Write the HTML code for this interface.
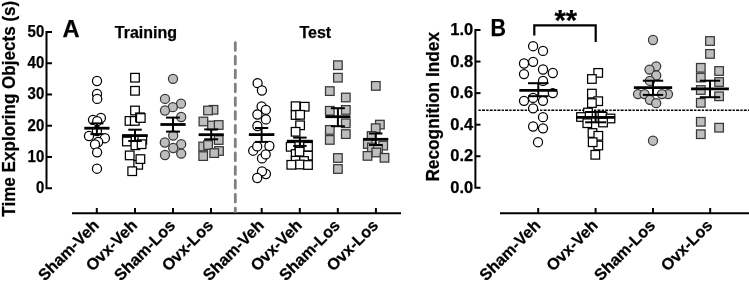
<!DOCTYPE html>
<html><head><meta charset="utf-8"><style>html,body{margin:0;padding:0;background:#fff;overflow:hidden}svg{display:block;will-change:transform}</style></head>
<body><svg width="749" height="287" viewBox="0 0 749 287"><path d="M52,32.00 H46.5 V188.20 H52" fill="none" stroke="#000" stroke-width="2"/>
<line x1="46.5" x2="52" y1="156.96" y2="156.96" stroke="#000" stroke-width="2"/>
<line x1="46.5" x2="52" y1="125.72" y2="125.72" stroke="#000" stroke-width="2"/>
<line x1="46.5" x2="52" y1="94.48" y2="94.48" stroke="#000" stroke-width="2"/>
<line x1="46.5" x2="52" y1="63.24" y2="63.24" stroke="#000" stroke-width="2"/>
<text x="44.3" y="193.10" text-anchor="end" font-size="16.5" textLength="8.3" lengthAdjust="spacingAndGlyphs" font-family="Liberation Sans, sans-serif" font-weight="bold" stroke="#000" stroke-width="0.25">0</text>
<text x="44.3" y="161.86" text-anchor="end" font-size="16.5" textLength="16.7" lengthAdjust="spacingAndGlyphs" font-family="Liberation Sans, sans-serif" font-weight="bold" stroke="#000" stroke-width="0.25">10</text>
<text x="44.3" y="130.62" text-anchor="end" font-size="16.5" textLength="16.7" lengthAdjust="spacingAndGlyphs" font-family="Liberation Sans, sans-serif" font-weight="bold" stroke="#000" stroke-width="0.25">20</text>
<text x="44.3" y="99.38" text-anchor="end" font-size="16.5" textLength="16.7" lengthAdjust="spacingAndGlyphs" font-family="Liberation Sans, sans-serif" font-weight="bold" stroke="#000" stroke-width="0.25">30</text>
<text x="44.3" y="68.14" text-anchor="end" font-size="16.5" textLength="16.7" lengthAdjust="spacingAndGlyphs" font-family="Liberation Sans, sans-serif" font-weight="bold" stroke="#000" stroke-width="0.25">40</text>
<text x="44.3" y="36.90" text-anchor="end" font-size="16.5" textLength="16.7" lengthAdjust="spacingAndGlyphs" font-family="Liberation Sans, sans-serif" font-weight="bold" stroke="#000" stroke-width="0.25">50</text>
<line x1="72" x2="401" y1="213.2" y2="213.2" stroke="#000" stroke-width="2"/>
<line x1="96.8" x2="96.8" y1="208" y2="213" stroke="#000" stroke-width="2"/>
<line x1="135" x2="135" y1="208" y2="213" stroke="#000" stroke-width="2"/>
<line x1="173" x2="173" y1="208" y2="213" stroke="#000" stroke-width="2"/>
<line x1="211" x2="211" y1="208" y2="213" stroke="#000" stroke-width="2"/>
<line x1="261.7" x2="261.7" y1="208" y2="213" stroke="#000" stroke-width="2"/>
<line x1="299.8" x2="299.8" y1="208" y2="213" stroke="#000" stroke-width="2"/>
<line x1="337.8" x2="337.8" y1="208" y2="213" stroke="#000" stroke-width="2"/>
<line x1="375.9" x2="375.9" y1="208" y2="213" stroke="#000" stroke-width="2"/>
<line x1="235.3" x2="235.3" y1="42.7" y2="211.5" stroke="#808080" stroke-width="2.8" stroke-dasharray="7.7 6.08" stroke-linecap="round"/>
<path d="M480.5,30.00 H475.4 V187.80 H480.5" fill="none" stroke="#000" stroke-width="2"/>
<line x1="475.4" x2="480.5" y1="156.24" y2="156.24" stroke="#000" stroke-width="2"/>
<line x1="475.4" x2="480.5" y1="124.68" y2="124.68" stroke="#000" stroke-width="2"/>
<line x1="475.4" x2="480.5" y1="93.12" y2="93.12" stroke="#000" stroke-width="2"/>
<line x1="475.4" x2="480.5" y1="61.56" y2="61.56" stroke="#000" stroke-width="2"/>
<text x="473.2" y="193.00" text-anchor="end" font-size="16.5" font-family="Liberation Sans, sans-serif" font-weight="bold" stroke="#000" stroke-width="0.25">0.0</text>
<text x="473.2" y="161.44" text-anchor="end" font-size="16.5" font-family="Liberation Sans, sans-serif" font-weight="bold" stroke="#000" stroke-width="0.25">0.2</text>
<text x="473.2" y="129.88" text-anchor="end" font-size="16.5" font-family="Liberation Sans, sans-serif" font-weight="bold" stroke="#000" stroke-width="0.25">0.4</text>
<text x="473.2" y="98.32" text-anchor="end" font-size="16.5" font-family="Liberation Sans, sans-serif" font-weight="bold" stroke="#000" stroke-width="0.25">0.6</text>
<text x="473.2" y="66.76" text-anchor="end" font-size="16.5" font-family="Liberation Sans, sans-serif" font-weight="bold" stroke="#000" stroke-width="0.25">0.8</text>
<text x="473.2" y="35.20" text-anchor="end" font-size="16.5" font-family="Liberation Sans, sans-serif" font-weight="bold" stroke="#000" stroke-width="0.25">1.0</text>
<line x1="500" x2="749" y1="213.2" y2="213.2" stroke="#000" stroke-width="2"/>
<line x1="538.2" x2="538.2" y1="208" y2="213" stroke="#000" stroke-width="2"/>
<line x1="595.6" x2="595.6" y1="208" y2="213" stroke="#000" stroke-width="2"/>
<line x1="653" x2="653" y1="208" y2="213" stroke="#000" stroke-width="2"/>
<line x1="710.2" x2="710.2" y1="208" y2="213" stroke="#000" stroke-width="2"/>
<line x1="478.5" x2="749" y1="110.3" y2="110.3" stroke="#000" stroke-width="1.4" stroke-dasharray="2.3 1.2 3.0 1.2"/>
<text x="62.45" y="36.8" font-size="23.7" font-family="Liberation Sans, sans-serif" font-weight="bold" stroke="#000" stroke-width="0.25">A</text>
<text x="114.8" y="37.6" font-size="16" font-family="Liberation Sans, sans-serif" font-weight="bold" stroke="#000" stroke-width="0.25">Training</text>
<text x="299.4" y="37.8" font-size="16" font-family="Liberation Sans, sans-serif" font-weight="bold" stroke="#000" stroke-width="0.25">Test</text>
<text x="490.55" y="35.6" font-size="23.7" textLength="15.5" lengthAdjust="spacingAndGlyphs" font-family="Liberation Sans, sans-serif" font-weight="bold" stroke="#000" stroke-width="0.25">B</text>
<text x="554.45" y="29.95" font-size="29.1" font-family="Liberation Sans, sans-serif" font-weight="bold" stroke="#000" stroke-width="0.25">**</text>
<path d="M534.3,35.4 V25.4 H595.7 V41.9" fill="none" stroke="#000" stroke-width="2.2"/>
<text transform="translate(14.6,108.7) rotate(-90)" text-anchor="middle" font-size="18" textLength="216" lengthAdjust="spacingAndGlyphs" font-family="Liberation Sans, sans-serif" font-weight="bold" stroke="#000" stroke-width="0.25">Time Exploring Objects (s)</text>
<text transform="translate(439.3,106.8) rotate(-90)" text-anchor="middle" font-size="18" textLength="149.6" lengthAdjust="spacingAndGlyphs" font-family="Liberation Sans, sans-serif" font-weight="bold" stroke="#000" stroke-width="0.25">Recognition Index</text>
<text transform="translate(100.0,226.3) rotate(-45)" text-anchor="end" font-size="16.2" font-family="Liberation Sans, sans-serif" font-weight="bold" stroke="#000" stroke-width="0.25">Sham-Veh</text>
<text transform="translate(138.2,226.3) rotate(-45)" text-anchor="end" font-size="16.2" font-family="Liberation Sans, sans-serif" font-weight="bold" stroke="#000" stroke-width="0.25">Ovx-Veh</text>
<text transform="translate(176.2,226.3) rotate(-45)" text-anchor="end" font-size="16.2" font-family="Liberation Sans, sans-serif" font-weight="bold" stroke="#000" stroke-width="0.25">Sham-Los</text>
<text transform="translate(214.2,226.3) rotate(-45)" text-anchor="end" font-size="16.2" font-family="Liberation Sans, sans-serif" font-weight="bold" stroke="#000" stroke-width="0.25">Ovx-Los</text>
<text transform="translate(264.9,226.3) rotate(-45)" text-anchor="end" font-size="16.2" font-family="Liberation Sans, sans-serif" font-weight="bold" stroke="#000" stroke-width="0.25">Sham-Veh</text>
<text transform="translate(303.0,226.3) rotate(-45)" text-anchor="end" font-size="16.2" font-family="Liberation Sans, sans-serif" font-weight="bold" stroke="#000" stroke-width="0.25">Ovx-Veh</text>
<text transform="translate(341.0,226.3) rotate(-45)" text-anchor="end" font-size="16.2" font-family="Liberation Sans, sans-serif" font-weight="bold" stroke="#000" stroke-width="0.25">Sham-Los</text>
<text transform="translate(379.1,226.3) rotate(-45)" text-anchor="end" font-size="16.2" font-family="Liberation Sans, sans-serif" font-weight="bold" stroke="#000" stroke-width="0.25">Ovx-Los</text>
<text transform="translate(541.4,226.3) rotate(-45)" text-anchor="end" font-size="16.2" font-family="Liberation Sans, sans-serif" font-weight="bold" stroke="#000" stroke-width="0.25">Sham-Veh</text>
<text transform="translate(598.8,226.3) rotate(-45)" text-anchor="end" font-size="16.2" font-family="Liberation Sans, sans-serif" font-weight="bold" stroke="#000" stroke-width="0.25">Ovx-Veh</text>
<text transform="translate(656.2,226.3) rotate(-45)" text-anchor="end" font-size="16.2" font-family="Liberation Sans, sans-serif" font-weight="bold" stroke="#000" stroke-width="0.25">Sham-Los</text>
<text transform="translate(713.4,226.3) rotate(-45)" text-anchor="end" font-size="16.2" font-family="Liberation Sans, sans-serif" font-weight="bold" stroke="#000" stroke-width="0.25">Ovx-Los</text>
<circle cx="97" cy="81" r="4.55" fill="#fff" stroke="#000" stroke-width="1.25"/>
<circle cx="97" cy="93.9" r="4.55" fill="#fff" stroke="#000" stroke-width="1.25"/>
<circle cx="97.2" cy="98.9" r="4.55" fill="#fff" stroke="#000" stroke-width="1.25"/>
<circle cx="93" cy="119.8" r="4.55" fill="#fff" stroke="#000" stroke-width="1.25"/>
<circle cx="100.9" cy="118" r="4.55" fill="#fff" stroke="#000" stroke-width="1.25"/>
<circle cx="97.2" cy="121.2" r="4.55" fill="#fff" stroke="#000" stroke-width="1.25"/>
<circle cx="96.9" cy="131" r="4.55" fill="#fff" stroke="#000" stroke-width="1.25"/>
<circle cx="89" cy="136" r="4.55" fill="#fff" stroke="#000" stroke-width="1.25"/>
<circle cx="104.9" cy="138.2" r="4.55" fill="#fff" stroke="#000" stroke-width="1.25"/>
<circle cx="98.2" cy="142" r="4.55" fill="#fff" stroke="#000" stroke-width="1.25"/>
<circle cx="95" cy="144.5" r="4.55" fill="#fff" stroke="#000" stroke-width="1.25"/>
<circle cx="97.1" cy="152.3" r="4.55" fill="#fff" stroke="#000" stroke-width="1.25"/>
<circle cx="97" cy="168.7" r="4.55" fill="#fff" stroke="#000" stroke-width="1.25"/>
<rect x="130.70" y="73.40" width="8.6" height="8.6" fill="#fff" stroke="#000" stroke-width="1.25"/>
<rect x="130.70" y="86.50" width="8.6" height="8.6" fill="#fff" stroke="#000" stroke-width="1.25"/>
<rect x="130.70" y="106.20" width="8.6" height="8.6" fill="#fff" stroke="#000" stroke-width="1.25"/>
<rect x="125.20" y="116.60" width="8.6" height="8.6" fill="#fff" stroke="#000" stroke-width="1.25"/>
<rect x="130.50" y="116.60" width="8.6" height="8.6" fill="#fff" stroke="#000" stroke-width="1.25"/>
<rect x="135.70" y="113.00" width="8.6" height="8.6" fill="#fff" stroke="#000" stroke-width="1.25"/>
<rect x="136.50" y="113.70" width="8.6" height="8.6" fill="#fff" stroke="#000" stroke-width="1.25"/>
<rect x="122.60" y="135.20" width="8.6" height="8.6" fill="#fff" stroke="#000" stroke-width="1.25"/>
<rect x="122.60" y="137.20" width="8.6" height="8.6" fill="#fff" stroke="#000" stroke-width="1.25"/>
<rect x="138.00" y="135.50" width="8.6" height="8.6" fill="#fff" stroke="#000" stroke-width="1.25"/>
<rect x="131.10" y="141.00" width="8.6" height="8.6" fill="#fff" stroke="#000" stroke-width="1.25"/>
<rect x="137.30" y="139.90" width="8.6" height="8.6" fill="#fff" stroke="#000" stroke-width="1.25"/>
<rect x="125.40" y="151.10" width="8.6" height="8.6" fill="#fff" stroke="#000" stroke-width="1.25"/>
<rect x="133.90" y="160.50" width="8.6" height="8.6" fill="#fff" stroke="#000" stroke-width="1.25"/>
<rect x="136.10" y="154.80" width="8.6" height="8.6" fill="#fff" stroke="#000" stroke-width="1.25"/>
<rect x="127.90" y="166.90" width="8.6" height="8.6" fill="#fff" stroke="#000" stroke-width="1.25"/>
<circle cx="173" cy="78.8" r="4.55" fill="#bebebe" stroke="#383838" stroke-width="1.25"/>
<circle cx="165" cy="98.9" r="4.55" fill="#bebebe" stroke="#383838" stroke-width="1.25"/>
<circle cx="181" cy="103.7" r="4.55" fill="#bebebe" stroke="#383838" stroke-width="1.25"/>
<circle cx="172.8" cy="107.2" r="4.55" fill="#bebebe" stroke="#383838" stroke-width="1.25"/>
<circle cx="165" cy="110.5" r="4.55" fill="#bebebe" stroke="#383838" stroke-width="1.25"/>
<circle cx="181.2" cy="117" r="4.55" fill="#bebebe" stroke="#383838" stroke-width="1.25"/>
<circle cx="173.2" cy="135.5" r="4.55" fill="#bebebe" stroke="#383838" stroke-width="1.25"/>
<circle cx="164.8" cy="142.5" r="4.55" fill="#bebebe" stroke="#383838" stroke-width="1.25"/>
<circle cx="181.2" cy="144.2" r="4.55" fill="#bebebe" stroke="#383838" stroke-width="1.25"/>
<circle cx="173.2" cy="148" r="4.55" fill="#bebebe" stroke="#383838" stroke-width="1.25"/>
<circle cx="165" cy="155" r="4.55" fill="#bebebe" stroke="#383838" stroke-width="1.25"/>
<circle cx="181.2" cy="153.6" r="4.55" fill="#bebebe" stroke="#383838" stroke-width="1.25"/>
<rect x="209.20" y="105.50" width="8.6" height="8.6" fill="#bebebe" stroke="#383838" stroke-width="1.25"/>
<rect x="203.70" y="106.20" width="8.6" height="8.6" fill="#bebebe" stroke="#383838" stroke-width="1.25"/>
<rect x="199.10" y="117.20" width="8.6" height="8.6" fill="#bebebe" stroke="#383838" stroke-width="1.25"/>
<rect x="207.70" y="121.20" width="8.6" height="8.6" fill="#bebebe" stroke="#383838" stroke-width="1.25"/>
<rect x="214.40" y="120.70" width="8.6" height="8.6" fill="#bebebe" stroke="#383838" stroke-width="1.25"/>
<rect x="214.40" y="135.70" width="8.6" height="8.6" fill="#bebebe" stroke="#383838" stroke-width="1.25"/>
<rect x="198.90" y="142.20" width="8.6" height="8.6" fill="#bebebe" stroke="#383838" stroke-width="1.25"/>
<rect x="203.80" y="140.70" width="8.6" height="8.6" fill="#bebebe" stroke="#383838" stroke-width="1.25"/>
<rect x="214.70" y="146.70" width="8.6" height="8.6" fill="#bebebe" stroke="#383838" stroke-width="1.25"/>
<rect x="209.90" y="148.80" width="8.6" height="8.6" fill="#bebebe" stroke="#383838" stroke-width="1.25"/>
<rect x="198.90" y="151.80" width="8.6" height="8.6" fill="#bebebe" stroke="#383838" stroke-width="1.25"/>
<circle cx="257.6" cy="83.2" r="4.55" fill="#fff" stroke="#000" stroke-width="1.25"/>
<circle cx="261.9" cy="90.5" r="4.55" fill="#fff" stroke="#000" stroke-width="1.25"/>
<circle cx="261.6" cy="106.5" r="4.55" fill="#fff" stroke="#000" stroke-width="1.25"/>
<circle cx="265.9" cy="109.8" r="4.55" fill="#fff" stroke="#000" stroke-width="1.25"/>
<circle cx="257.4" cy="114.5" r="4.55" fill="#fff" stroke="#000" stroke-width="1.25"/>
<circle cx="265.9" cy="119.4" r="4.55" fill="#fff" stroke="#000" stroke-width="1.25"/>
<circle cx="257.4" cy="126" r="4.55" fill="#fff" stroke="#000" stroke-width="1.25"/>
<circle cx="253.2" cy="150.7" r="4.55" fill="#fff" stroke="#000" stroke-width="1.25"/>
<circle cx="257.2" cy="146.4" r="4.55" fill="#fff" stroke="#000" stroke-width="1.25"/>
<circle cx="269.4" cy="146" r="4.55" fill="#fff" stroke="#000" stroke-width="1.25"/>
<circle cx="262" cy="158.4" r="4.55" fill="#fff" stroke="#000" stroke-width="1.25"/>
<circle cx="265.7" cy="154.4" r="4.55" fill="#fff" stroke="#000" stroke-width="1.25"/>
<circle cx="265.9" cy="174" r="4.55" fill="#fff" stroke="#000" stroke-width="1.25"/>
<circle cx="262" cy="171.3" r="4.55" fill="#fff" stroke="#000" stroke-width="1.25"/>
<circle cx="257.2" cy="178" r="4.55" fill="#fff" stroke="#000" stroke-width="1.25"/>
<rect x="291.30" y="101.90" width="8.6" height="8.6" fill="#fff" stroke="#000" stroke-width="1.25"/>
<rect x="300.40" y="102.40" width="8.6" height="8.6" fill="#fff" stroke="#000" stroke-width="1.25"/>
<rect x="291.30" y="110.70" width="8.6" height="8.6" fill="#fff" stroke="#000" stroke-width="1.25"/>
<rect x="295.80" y="110.50" width="8.6" height="8.6" fill="#fff" stroke="#000" stroke-width="1.25"/>
<rect x="295.80" y="121.00" width="8.6" height="8.6" fill="#fff" stroke="#000" stroke-width="1.25"/>
<rect x="291.30" y="127.50" width="8.6" height="8.6" fill="#fff" stroke="#000" stroke-width="1.25"/>
<rect x="286.40" y="142.50" width="8.6" height="8.6" fill="#fff" stroke="#000" stroke-width="1.25"/>
<rect x="303.70" y="142.50" width="8.6" height="8.6" fill="#fff" stroke="#000" stroke-width="1.25"/>
<rect x="291.40" y="149.70" width="8.6" height="8.6" fill="#fff" stroke="#000" stroke-width="1.25"/>
<rect x="295.30" y="147.40" width="8.6" height="8.6" fill="#fff" stroke="#000" stroke-width="1.25"/>
<rect x="303.70" y="151.30" width="8.6" height="8.6" fill="#fff" stroke="#000" stroke-width="1.25"/>
<rect x="291.40" y="156.40" width="8.6" height="8.6" fill="#fff" stroke="#000" stroke-width="1.25"/>
<rect x="299.70" y="156.70" width="8.6" height="8.6" fill="#fff" stroke="#000" stroke-width="1.25"/>
<rect x="287.00" y="160.50" width="8.6" height="8.6" fill="#fff" stroke="#000" stroke-width="1.25"/>
<rect x="295.80" y="160.20" width="8.6" height="8.6" fill="#fff" stroke="#000" stroke-width="1.25"/>
<rect x="303.70" y="160.70" width="8.6" height="8.6" fill="#fff" stroke="#000" stroke-width="1.25"/>
<rect x="333.60" y="60.90" width="8.6" height="8.6" fill="#bebebe" stroke="#383838" stroke-width="1.25"/>
<rect x="333.60" y="73.40" width="8.6" height="8.6" fill="#bebebe" stroke="#383838" stroke-width="1.25"/>
<rect x="325.50" y="86.80" width="8.6" height="8.6" fill="#bebebe" stroke="#383838" stroke-width="1.25"/>
<rect x="341.50" y="93.20" width="8.6" height="8.6" fill="#bebebe" stroke="#383838" stroke-width="1.25"/>
<rect x="325.50" y="106.50" width="8.6" height="8.6" fill="#bebebe" stroke="#383838" stroke-width="1.25"/>
<rect x="341.50" y="105.60" width="8.6" height="8.6" fill="#bebebe" stroke="#383838" stroke-width="1.25"/>
<rect x="341.50" y="119.00" width="8.6" height="8.6" fill="#bebebe" stroke="#383838" stroke-width="1.25"/>
<rect x="325.50" y="125.60" width="8.6" height="8.6" fill="#bebebe" stroke="#383838" stroke-width="1.25"/>
<rect x="341.50" y="129.80" width="8.6" height="8.6" fill="#bebebe" stroke="#383838" stroke-width="1.25"/>
<rect x="325.50" y="135.60" width="8.6" height="8.6" fill="#bebebe" stroke="#383838" stroke-width="1.25"/>
<rect x="333.60" y="153.70" width="8.6" height="8.6" fill="#bebebe" stroke="#383838" stroke-width="1.25"/>
<rect x="333.60" y="164.70" width="8.6" height="8.6" fill="#bebebe" stroke="#383838" stroke-width="1.25"/>
<rect x="371.50" y="81.60" width="8.6" height="8.6" fill="#bebebe" stroke="#383838" stroke-width="1.25"/>
<rect x="375.60" y="120.30" width="8.6" height="8.6" fill="#bebebe" stroke="#383838" stroke-width="1.25"/>
<rect x="371.40" y="123.90" width="8.6" height="8.6" fill="#bebebe" stroke="#383838" stroke-width="1.25"/>
<rect x="367.30" y="131.70" width="8.6" height="8.6" fill="#bebebe" stroke="#383838" stroke-width="1.25"/>
<rect x="363.50" y="139.70" width="8.6" height="8.6" fill="#bebebe" stroke="#383838" stroke-width="1.25"/>
<rect x="378.90" y="141.30" width="8.6" height="8.6" fill="#bebebe" stroke="#383838" stroke-width="1.25"/>
<rect x="367.60" y="143.20" width="8.6" height="8.6" fill="#bebebe" stroke="#383838" stroke-width="1.25"/>
<rect x="373.70" y="144.70" width="8.6" height="8.6" fill="#bebebe" stroke="#383838" stroke-width="1.25"/>
<rect x="372.00" y="148.20" width="8.6" height="8.6" fill="#bebebe" stroke="#383838" stroke-width="1.25"/>
<rect x="363.20" y="151.60" width="8.6" height="8.6" fill="#bebebe" stroke="#383838" stroke-width="1.25"/>
<rect x="380.20" y="153.50" width="8.6" height="8.6" fill="#bebebe" stroke="#383838" stroke-width="1.25"/>
<circle cx="533.1" cy="46.2" r="4.55" fill="#fff" stroke="#000" stroke-width="1.25"/>
<circle cx="543" cy="50.9" r="4.55" fill="#fff" stroke="#000" stroke-width="1.25"/>
<circle cx="533.1" cy="61.8" r="4.55" fill="#fff" stroke="#000" stroke-width="1.25"/>
<circle cx="524" cy="63.5" r="4.55" fill="#fff" stroke="#000" stroke-width="1.25"/>
<circle cx="543" cy="69.5" r="4.55" fill="#fff" stroke="#000" stroke-width="1.25"/>
<circle cx="552.8" cy="73" r="4.55" fill="#fff" stroke="#000" stroke-width="1.25"/>
<circle cx="524" cy="74.1" r="4.55" fill="#fff" stroke="#000" stroke-width="1.25"/>
<circle cx="543" cy="80.9" r="4.55" fill="#fff" stroke="#000" stroke-width="1.25"/>
<circle cx="552.8" cy="93.1" r="4.55" fill="#fff" stroke="#000" stroke-width="1.25"/>
<circle cx="533.1" cy="97.9" r="4.55" fill="#fff" stroke="#000" stroke-width="1.25"/>
<circle cx="524" cy="100.8" r="4.55" fill="#fff" stroke="#000" stroke-width="1.25"/>
<circle cx="543" cy="100.8" r="4.55" fill="#fff" stroke="#000" stroke-width="1.25"/>
<circle cx="533.1" cy="108.3" r="4.55" fill="#fff" stroke="#000" stroke-width="1.25"/>
<circle cx="543" cy="117.2" r="4.55" fill="#fff" stroke="#000" stroke-width="1.25"/>
<circle cx="533.1" cy="126.5" r="4.55" fill="#fff" stroke="#000" stroke-width="1.25"/>
<circle cx="543" cy="128.3" r="4.55" fill="#fff" stroke="#000" stroke-width="1.25"/>
<circle cx="538" cy="142.2" r="4.55" fill="#fff" stroke="#000" stroke-width="1.25"/>
<rect x="593.90" y="68.60" width="8.6" height="8.6" fill="#fff" stroke="#000" stroke-width="1.25"/>
<rect x="587.60" y="74.70" width="8.6" height="8.6" fill="#fff" stroke="#000" stroke-width="1.25"/>
<rect x="587.60" y="89.30" width="8.6" height="8.6" fill="#fff" stroke="#000" stroke-width="1.25"/>
<rect x="593.90" y="96.90" width="8.6" height="8.6" fill="#fff" stroke="#000" stroke-width="1.25"/>
<rect x="587.60" y="98.80" width="8.6" height="8.6" fill="#fff" stroke="#000" stroke-width="1.25"/>
<rect x="583.70" y="108.20" width="8.6" height="8.6" fill="#fff" stroke="#000" stroke-width="1.25"/>
<rect x="576.70" y="112.70" width="8.6" height="8.6" fill="#fff" stroke="#000" stroke-width="1.25"/>
<rect x="598.20" y="112.20" width="8.6" height="8.6" fill="#fff" stroke="#000" stroke-width="1.25"/>
<rect x="606.20" y="114.20" width="8.6" height="8.6" fill="#fff" stroke="#000" stroke-width="1.25"/>
<rect x="583.00" y="118.90" width="8.6" height="8.6" fill="#fff" stroke="#000" stroke-width="1.25"/>
<rect x="598.70" y="118.20" width="8.6" height="8.6" fill="#fff" stroke="#000" stroke-width="1.25"/>
<rect x="588.20" y="128.70" width="8.6" height="8.6" fill="#fff" stroke="#000" stroke-width="1.25"/>
<rect x="594.00" y="141.20" width="8.6" height="8.6" fill="#fff" stroke="#000" stroke-width="1.25"/>
<rect x="594.00" y="131.50" width="8.6" height="8.6" fill="#fff" stroke="#000" stroke-width="1.25"/>
<rect x="588.40" y="137.90" width="8.6" height="8.6" fill="#fff" stroke="#000" stroke-width="1.25"/>
<rect x="591.00" y="150.50" width="8.6" height="8.6" fill="#fff" stroke="#000" stroke-width="1.25"/>
<circle cx="653" cy="40" r="4.55" fill="#bebebe" stroke="#383838" stroke-width="1.25"/>
<circle cx="656.2" cy="66.3" r="4.55" fill="#bebebe" stroke="#383838" stroke-width="1.25"/>
<circle cx="649.5" cy="69.6" r="4.55" fill="#bebebe" stroke="#383838" stroke-width="1.25"/>
<circle cx="656.2" cy="75.5" r="4.55" fill="#bebebe" stroke="#383838" stroke-width="1.25"/>
<circle cx="649.9" cy="80.9" r="4.55" fill="#bebebe" stroke="#383838" stroke-width="1.25"/>
<circle cx="638" cy="94.1" r="4.55" fill="#bebebe" stroke="#383838" stroke-width="1.25"/>
<circle cx="644.5" cy="94.1" r="4.55" fill="#bebebe" stroke="#383838" stroke-width="1.25"/>
<circle cx="668" cy="94.1" r="4.55" fill="#bebebe" stroke="#383838" stroke-width="1.25"/>
<circle cx="661.9" cy="94.1" r="4.55" fill="#bebebe" stroke="#383838" stroke-width="1.25"/>
<circle cx="649.9" cy="99.8" r="4.55" fill="#bebebe" stroke="#383838" stroke-width="1.25"/>
<circle cx="656.2" cy="103.2" r="4.55" fill="#bebebe" stroke="#383838" stroke-width="1.25"/>
<circle cx="653" cy="140.7" r="4.55" fill="#bebebe" stroke="#383838" stroke-width="1.25"/>
<rect x="705.70" y="36.70" width="8.6" height="8.6" fill="#bebebe" stroke="#383838" stroke-width="1.25"/>
<rect x="705.70" y="49.60" width="8.6" height="8.6" fill="#bebebe" stroke="#383838" stroke-width="1.25"/>
<rect x="696.50" y="63.50" width="8.6" height="8.6" fill="#bebebe" stroke="#383838" stroke-width="1.25"/>
<rect x="714.80" y="66.70" width="8.6" height="8.6" fill="#bebebe" stroke="#383838" stroke-width="1.25"/>
<rect x="696.50" y="73.30" width="8.6" height="8.6" fill="#bebebe" stroke="#383838" stroke-width="1.25"/>
<rect x="714.80" y="77.70" width="8.6" height="8.6" fill="#bebebe" stroke="#383838" stroke-width="1.25"/>
<rect x="696.50" y="85.70" width="8.6" height="8.6" fill="#bebebe" stroke="#383838" stroke-width="1.25"/>
<rect x="714.80" y="92.00" width="8.6" height="8.6" fill="#bebebe" stroke="#383838" stroke-width="1.25"/>
<rect x="696.50" y="98.50" width="8.6" height="8.6" fill="#bebebe" stroke="#383838" stroke-width="1.25"/>
<rect x="696.50" y="117.50" width="8.6" height="8.6" fill="#bebebe" stroke="#383838" stroke-width="1.25"/>
<rect x="714.80" y="123.40" width="8.6" height="8.6" fill="#bebebe" stroke="#383838" stroke-width="1.25"/>
<rect x="696.50" y="129.90" width="8.6" height="8.6" fill="#bebebe" stroke="#383838" stroke-width="1.25"/>
<line x1="96.9" x2="96.9" y1="123.4" y2="134.1" stroke="#000" stroke-width="2"/>
<line x1="90.40" x2="103.40" y1="123.4" y2="123.4" stroke="#000" stroke-width="2"/>
<line x1="90.40" x2="103.40" y1="134.1" y2="134.1" stroke="#000" stroke-width="2"/>
<line x1="84.30" x2="109.50" y1="128.2" y2="128.2" stroke="#000" stroke-width="2.8"/>
<line x1="135" x2="135" y1="129.7" y2="141" stroke="#000" stroke-width="2"/>
<line x1="128.25" x2="141.75" y1="129.7" y2="129.7" stroke="#000" stroke-width="2"/>
<line x1="128.25" x2="141.75" y1="141" y2="141" stroke="#000" stroke-width="2"/>
<line x1="122.25" x2="147.75" y1="135.6" y2="135.6" stroke="#000" stroke-width="2.8"/>
<line x1="173" x2="173" y1="117.6" y2="131.6" stroke="#000" stroke-width="2"/>
<line x1="166.00" x2="180.00" y1="117.6" y2="117.6" stroke="#000" stroke-width="2"/>
<line x1="166.00" x2="180.00" y1="131.6" y2="131.6" stroke="#000" stroke-width="2"/>
<line x1="160.40" x2="185.60" y1="124.5" y2="124.5" stroke="#000" stroke-width="2.8"/>
<line x1="211.2" x2="211.2" y1="129.4" y2="139.3" stroke="#000" stroke-width="2"/>
<line x1="204.20" x2="218.20" y1="129.4" y2="129.4" stroke="#000" stroke-width="2"/>
<line x1="204.20" x2="218.20" y1="139.3" y2="139.3" stroke="#000" stroke-width="2"/>
<line x1="198.60" x2="223.80" y1="134.7" y2="134.7" stroke="#000" stroke-width="2.8"/>
<line x1="261.6" x2="261.6" y1="128" y2="141.9" stroke="#000" stroke-width="2"/>
<line x1="255.00" x2="268.20" y1="128" y2="128" stroke="#000" stroke-width="2"/>
<line x1="255.00" x2="268.20" y1="141.9" y2="141.9" stroke="#000" stroke-width="2"/>
<line x1="248.85" x2="274.35" y1="134.6" y2="134.6" stroke="#000" stroke-width="2.8"/>
<line x1="299.9" x2="299.9" y1="137.6" y2="145.9" stroke="#000" stroke-width="2"/>
<line x1="293.15" x2="306.65" y1="137.6" y2="137.6" stroke="#000" stroke-width="2"/>
<line x1="293.15" x2="306.65" y1="145.9" y2="145.9" stroke="#000" stroke-width="2"/>
<line x1="286.90" x2="312.90" y1="141.2" y2="141.2" stroke="#000" stroke-width="2.8"/>
<line x1="337.9" x2="337.9" y1="108.2" y2="126.2" stroke="#000" stroke-width="2"/>
<line x1="330.90" x2="344.90" y1="108.2" y2="108.2" stroke="#000" stroke-width="2"/>
<line x1="330.90" x2="344.90" y1="126.2" y2="126.2" stroke="#000" stroke-width="2"/>
<line x1="325.30" x2="350.50" y1="116.7" y2="116.7" stroke="#000" stroke-width="2.8"/>
<line x1="375.7" x2="375.7" y1="133.5" y2="145" stroke="#000" stroke-width="2"/>
<line x1="368.95" x2="382.45" y1="133.5" y2="133.5" stroke="#000" stroke-width="2"/>
<line x1="368.95" x2="382.45" y1="145" y2="145" stroke="#000" stroke-width="2"/>
<line x1="363.10" x2="388.30" y1="139.3" y2="139.3" stroke="#000" stroke-width="2.8"/>
<line x1="538.3" x2="538.3" y1="83.2" y2="96.2" stroke="#000" stroke-width="2"/>
<line x1="528.05" x2="548.55" y1="83.2" y2="83.2" stroke="#000" stroke-width="2"/>
<line x1="528.05" x2="548.55" y1="96.2" y2="96.2" stroke="#000" stroke-width="2"/>
<line x1="519.30" x2="557.30" y1="90.3" y2="90.3" stroke="#000" stroke-width="2.8"/>
<line x1="595.6" x2="595.6" y1="112" y2="122.3" stroke="#000" stroke-width="2"/>
<line x1="585.10" x2="606.10" y1="112" y2="112" stroke="#000" stroke-width="2"/>
<line x1="585.10" x2="606.10" y1="122.3" y2="122.3" stroke="#000" stroke-width="2"/>
<line x1="576.10" x2="615.10" y1="117.4" y2="117.4" stroke="#000" stroke-width="2.8"/>
<line x1="653" x2="653" y1="80.7" y2="94.9" stroke="#000" stroke-width="2"/>
<line x1="642.80" x2="663.20" y1="80.7" y2="80.7" stroke="#000" stroke-width="2"/>
<line x1="642.80" x2="663.20" y1="94.9" y2="94.9" stroke="#000" stroke-width="2"/>
<line x1="633.85" x2="672.15" y1="87.6" y2="87.6" stroke="#000" stroke-width="2.8"/>
<line x1="710" x2="710" y1="80.7" y2="97.2" stroke="#000" stroke-width="2"/>
<line x1="699.80" x2="720.20" y1="80.7" y2="80.7" stroke="#000" stroke-width="2"/>
<line x1="699.80" x2="720.20" y1="97.2" y2="97.2" stroke="#000" stroke-width="2"/>
<line x1="691.10" x2="728.90" y1="88.8" y2="88.8" stroke="#000" stroke-width="2.8"/></svg></body></html>
